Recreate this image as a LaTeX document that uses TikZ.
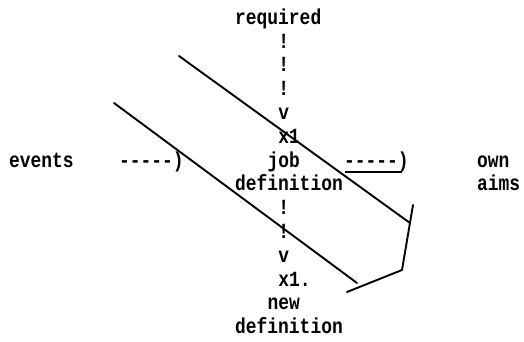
\documentclass[tikz,border=0pt]{standalone}
\usepackage{fontspec}
\setmonofont{Liberation Mono}[FakeStretch=0.83]
\usetikzlibrary{calc}
\tikzset{
  typed/.style={font=\ttfamily\bfseries\fontsize{21.6}{23.8}\selectfont,
                inner sep=0pt,anchor=base west,yshift=-5.7pt,text=black},
  stroke/.style={draw=black,line width=1.9pt,line cap=round,line join=round},
  uline/.style={draw=black,line width=1.4pt}
}
\begin{document}
\begin{tikzpicture}[x=1pt,y=-1pt]
        \useasboundingbox (0,0) rectangle (524,341);
        % centre column, typed on a fixed grid
        \node[typed] (req) at (235,18.5) {required};
        \foreach \yy/\nm in {42.3/a,66.1/b,89.9/c}
          \node[typed] (bang\nm) at (278.2,\yy) {!};
        \node[typed] (vup) at (278.2,113.7) {v};
        \node[typed] (xup) at (278.2,137.5) {x1};
        \node[typed] (job) at (267.4,161.3) {job};
        \node[typed] (jobdef) at (235,185.1) {definition};
        \foreach \yy/\nm in {208.9/d,232.7/e}
          \node[typed] (bang\nm) at (278.2,\yy) {!};
        \node[typed] (vlow) at (278.2,256.5) {v};
        \node[typed] (xlow) at (278.2,280.3) {x1.};
        \node[typed] (new) at (267.4,304.1) {new};
        \node[typed] (newdef) at (235,327.9) {definition};
        % side texts and typed arrows
        \node[typed] (events) at (9,161.3) {events};
        \node[typed] (inarr) at (119,161.3) {-----)};
        \node[typed] (outarr) at (344,161.3) {-----)};
        \node[typed] (own) at (477,161.3) {own};
        \node[typed] (aims) at (477,185.1) {aims};
        % the strokes drawn over the typing
        \coordinate (uptop) at (179,56);
        \coordinate (upend) at (410,223);
        \coordinate (lowtop) at (114,103);
        \coordinate (lowend) at (357,283);
        \coordinate (hooktop) at (413,205);
        \coordinate (hookbend) at (402,270);
        \coordinate (hookend) at (347,292);
        \draw[stroke] (uptop) -- (upend);
        \draw[stroke] (lowtop) -- (lowend);
        \draw[stroke] (hooktop) -- (hookbend) -- (hookend);
        \draw[uline] ($(outarr.base west)+(1,5)$) -- ($(outarr.base west)+(58,5)$);
      \end{tikzpicture}
\end{document}
